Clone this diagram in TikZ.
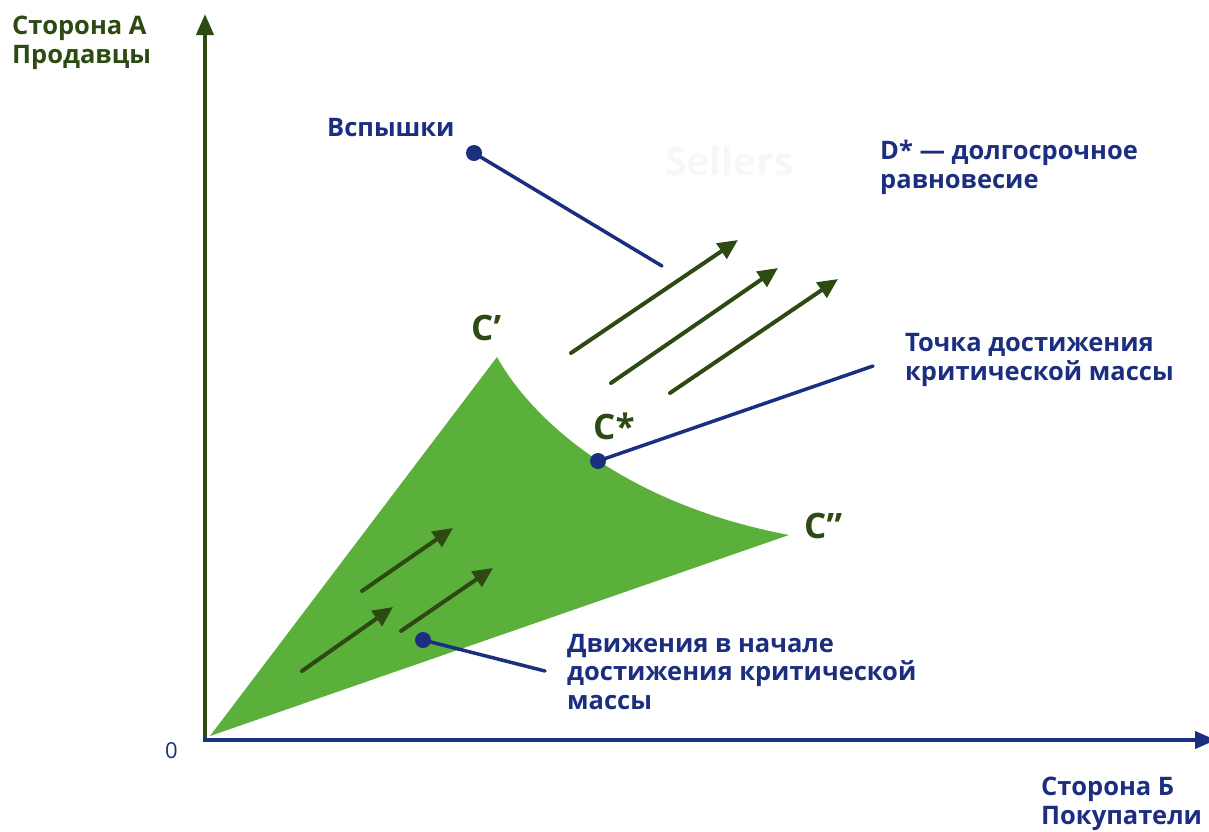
\documentclass[tikz,border=0pt]{standalone}
\usepackage{fontspec}
\setmainfont{Open Sans}
\usetikzlibrary{arrows.meta}
\definecolor{dgreen}{HTML}{2C4A12}
\definecolor{navy}{HTML}{1B2E80}
\definecolor{fillgreen}{HTML}{5BAF3B}
\definecolor{faint}{HTML}{F7F7F7}
\begin{document}
\begin{tikzpicture}[x=1pt,y=-1pt,
  lbl/.style={inner sep=0pt, anchor=base west, align=left, font=\fontsize{25.5}{28.5}\selectfont\bfseries},
  glbl/.style={lbl, text=dgreen},
  blbl/.style={lbl, text=navy},
  clbl/.style={inner sep=0pt, anchor=base west, text=dgreen, font=\fontsize{35}{40}\selectfont\bfseries},
  garrow/.style={draw=dgreen, line width=4pt, line cap=round, -{Triangle[length=20pt,width=18pt]}},
  leader/.style={draw=navy, line width=3.5pt, line cap=round},
  dotnode/.style={circle, fill=navy, inner sep=0pt, minimum size=16pt}
]
\useasboundingbox (0,0) rectangle (1209,831);

% faint watermark
\node[inner sep=0pt, anchor=base west, text=faint, font=\fontsize{39}{40}\selectfont\bfseries] (wm) at (665,175) {Sellers};

% green region
\coordinate (O) at (210,736);
\coordinate (Cp) at (497,357);
\coordinate (Cpp) at (789,535);
\fill[fillgreen] (O) -- (Cp) .. controls (535,425) and (630,505) .. (Cpp) -- cycle;

% axes
\coordinate (ybot) at (205,742);
\coordinate (ytip) at (205,14);
\coordinate (xleft) at (203,740);
\coordinate (xtip) at (1216,740);
\draw[dgreen, line width=4pt, -{Triangle[length=21pt,width=17pt]}] (ybot) -- (ytip);
\draw[navy, line width=4pt, -{Triangle[length=21pt,width=17pt]}] (xleft) -- (xtip);

% axis labels (anchor = baseline of last line)
\node[glbl] (ya) at (12,63) {Сторона А\\Продавцы};
\node[blbl] (xa) at (1041,824) {Сторона Б\\Покупатели};
\node[inner sep=0pt, anchor=base west, text=navy, font=\fontsize{22}{26}\selectfont] (zero) at (165,758) {0};

% corner labels
\node[clbl] (lCp) at (471,340) {C’};
\node[clbl] (lCs) at (593,439) {C*};
\node[clbl] (lCpp) at (804,538) {C”};

% big arrows
\coordinate (a1s) at (571,353); \coordinate (a1e) at (738,240);
\coordinate (a2s) at (611,383); \coordinate (a2e) at (778,268);
\coordinate (a3s) at (670,393); \coordinate (a3e) at (838,279);
\draw[garrow] (a1s) -- (a1e);
\draw[garrow] (a2s) -- (a2e);
\draw[garrow] (a3s) -- (a3e);

% small arrows
\coordinate (b1s) at (362,591); \coordinate (b1e) at (453,528);
\coordinate (b2s) at (302,671); \coordinate (b2e) at (393,607);
\coordinate (b3s) at (401,631); \coordinate (b3e) at (493,568);
\draw[garrow] (b1s) -- (b1e);
\draw[garrow] (b2s) -- (b2e);
\draw[garrow] (b3s) -- (b3e);

% leaders with dots
\node[dotnode] (dF) at (474,153) {};
\coordinate (eF) at (662,266);
\draw[leader] (dF.center) -- (eF);

\node[dotnode] (dC) at (598,461) {};
\coordinate (eC) at (873,366);
\draw[leader] (dC.center) -- (eC);

\node[dotnode] (dM) at (423,640) {};
\coordinate (eM) at (545,671);
\draw[leader] (dM.center) -- (eM);

% text labels
\node[blbl] (tF) at (327,136) {Вспышки};
\node[blbl] (tD) at (880,188) {D* — долгосрочное\\равновесие};
\node[blbl] (tC) at (905,380) {Точка достижения\\критической массы};
\node[blbl] (tM) at (567,709) {Движения в начале\\достижения критической\\массы};
\end{tikzpicture}
\end{document}
